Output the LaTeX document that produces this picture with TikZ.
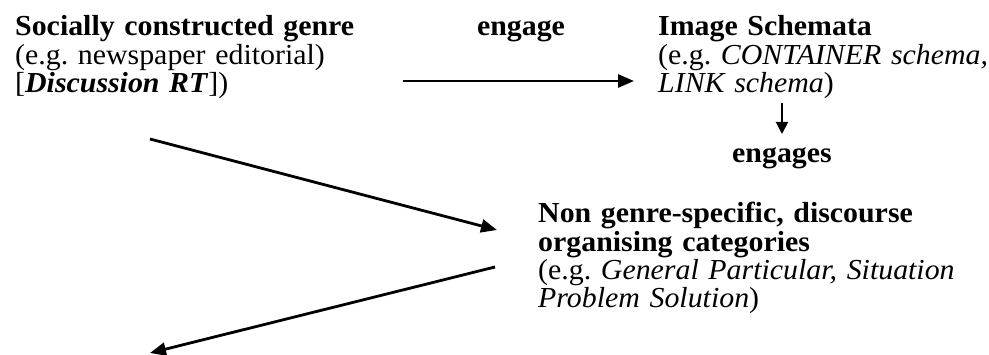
\documentclass[tikz,border=0pt]{standalone}
\usepackage{fontspec}
\setmainfont{Liberation Serif}[FakeStretch=1.03]
\usetikzlibrary{arrows.meta}
% fixed line pitch for the multi-line text blocks
\newcommand\blockskip{\baselineskip=28.3pt\relax}
\tikzset{
  txt/.style={anchor=base west, inner sep=0pt, text width=440pt, align=left,
    font=\fontsize{29}{28.3}\selectfont},
  lbl/.style={anchor=base, inner sep=0pt, font=\fontsize{29}{28.3}\selectfont\bfseries},
  link/.style={line width=2.8pt, -{Triangle[length=16pt,width=13pt]}}
}
\begin{document}
\begin{tikzpicture}[x=1pt,y=-1pt]
\useasboundingbox (0,0) rectangle (989,355);
% text blocks
\node[txt] (genre) at (15,36) {\blockskip\textbf{Socially constructed genre}\\(e.g.\ newspaper editorial)\\{}[\textbf{\textit{Discussion RT}}])};
\node[lbl] (engage) at (521,36) {engage};
\node[txt] (schemata) at (658,36) {\blockskip\textbf{Image Schemata}\\(e.g.\ \textit{CONTAINER schema,}\\\textit{LINK schema})};
\node[lbl] (engages) at (782,163) {engages};
\node[txt] (categories) at (538,223) {\blockskip\textbf{Non genre-specific, discourse}\\\textbf{organising categories}\\(e.g.\ \textit{General Particular, Situation}\\\textit{Problem Solution})};
% connector end points
\coordinate (e1) at (403,81);
\coordinate (e2) at (634,81);
\coordinate (s1) at (782,103);
\coordinate (s2) at (782,134);
\coordinate (d1) at (150,139);
\coordinate (d2) at (497,230);
\coordinate (u1) at (495,267);
\coordinate (u2) at (150,353);
% connectors
\draw[link] (e1) -- (e2);
\draw[line width=2pt, -{Triangle[length=12pt,width=12pt]}] (s1) -- (s2);
\draw[link] (d1) -- (d2);
\draw[link] (u1) -- (u2);
\end{tikzpicture}
\end{document}
